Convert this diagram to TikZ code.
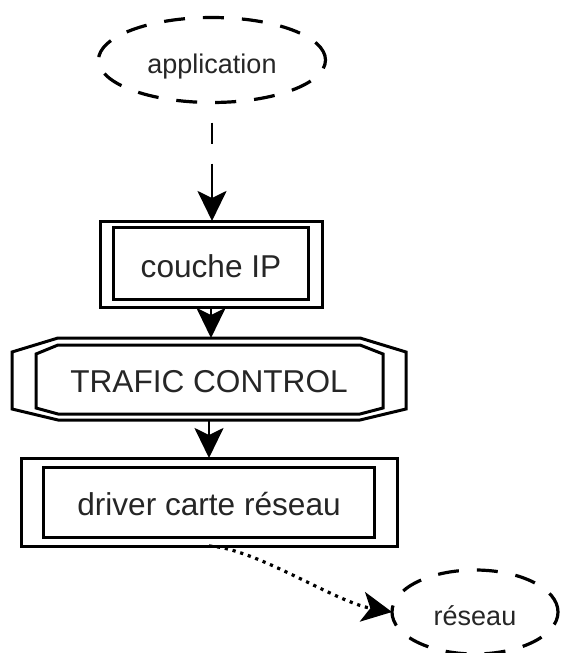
\documentclass[tikz,border=0pt]{standalone}
\usepackage{fontspec}
\setmainfont{Liberation Sans}
\usetikzlibrary{arrows.meta,shapes.geometric,calc}

\begin{document}
\begin{tikzpicture}[x=1pt,y=-1pt,
  txt/.style={text=black!85, text height=26pt, text depth=0pt, inner sep=0pt, outer sep=0pt},
  bigtxt/.style={txt, font=\fontsize{31.6}{36}\selectfont},
  smalltxt/.style={txt, font=\fontsize{27}{32}\selectfont},
  dashedell/.style={ellipse, draw, line width=3.2pt, dash pattern=on 21pt off 18pt, smalltxt},
  frame/.style={line width=3pt},
  tip/.style={-{Stealth[length=30pt,width=29pt,inset=7pt]}},
  flow/.style={line width=2.8pt, tip},
]
\useasboundingbox (0,0) rectangle (560,653);
\fill[white] (0,0) rectangle (560,653);

% application (dashed ellipse)
\node[dashedell, minimum width=227pt, minimum height=85pt] (app) at (212,60) {application};

% couche IP: double-framed box
\node[draw, frame, bigtxt, minimum width=222pt, minimum height=86pt] (ip) at (211,264) {couche IP};
\draw[frame] ($(ip.north west)+(13,6)$) rectangle ($(ip.south east)+(-14,-8)$);

% TRAFIC CONTROL: double-framed octagonal box
\node[bigtxt, minimum width=394pt, minimum height=82pt] (tc) at (209,379) {TRAFIC CONTROL};
\draw[frame, line join=miter]
  ($(tc.center)+(-151,-41)$) -- ($(tc.center)+(151,-41)$) -- ($(tc.center)+(197,-27)$)
  -- ($(tc.center)+(197,30)$) -- ($(tc.center)+(151,41)$) -- ($(tc.center)+(-151,41)$)
  -- ($(tc.center)+(-197,30)$) -- ($(tc.center)+(-197,-27)$) -- cycle;
\draw[frame, line join=miter]
  ($(tc.center)+(-151,-34)$) -- ($(tc.center)+(151,-34)$) -- ($(tc.center)+(174,-25)$)
  -- ($(tc.center)+(174,29)$) -- ($(tc.center)+(151,35)$) -- ($(tc.center)+(-151,35)$)
  -- ($(tc.center)+(-173,29)$) -- ($(tc.center)+(-173,-25)$) -- cycle;

% driver carte réseau: double-framed box
\node[draw, frame, bigtxt, minimum width=376pt, minimum height=88pt] (drv) at (209,502) {driver carte réseau};
\draw[frame] ($(drv.north west)+(22,9)$) rectangle ($(drv.south east)+(-23,-9)$);

% réseau (dashed ellipse)
\node[dashedell, minimum width=166pt, minimum height=84pt] (net) at (475,612) {réseau};

% connectors
\draw[flow, dash pattern=on 0pt off 20pt on 21pt off 20pt on 60pt]
  (app.south) -- (app.south |- ip.north);
\draw[flow] (ip.south) -- (ip.south |- tc.north);
\draw[flow] (tc.south) -- (tc.south |- drv.north);
\draw[line width=3.2pt, dash pattern=on 3.2pt off 4.8pt, -{Stealth[length=30pt,width=30pt,inset=8pt]}]
  (drv.south) .. controls (255,548) and (335,602) .. (net.west);
\end{tikzpicture}
\end{document}
